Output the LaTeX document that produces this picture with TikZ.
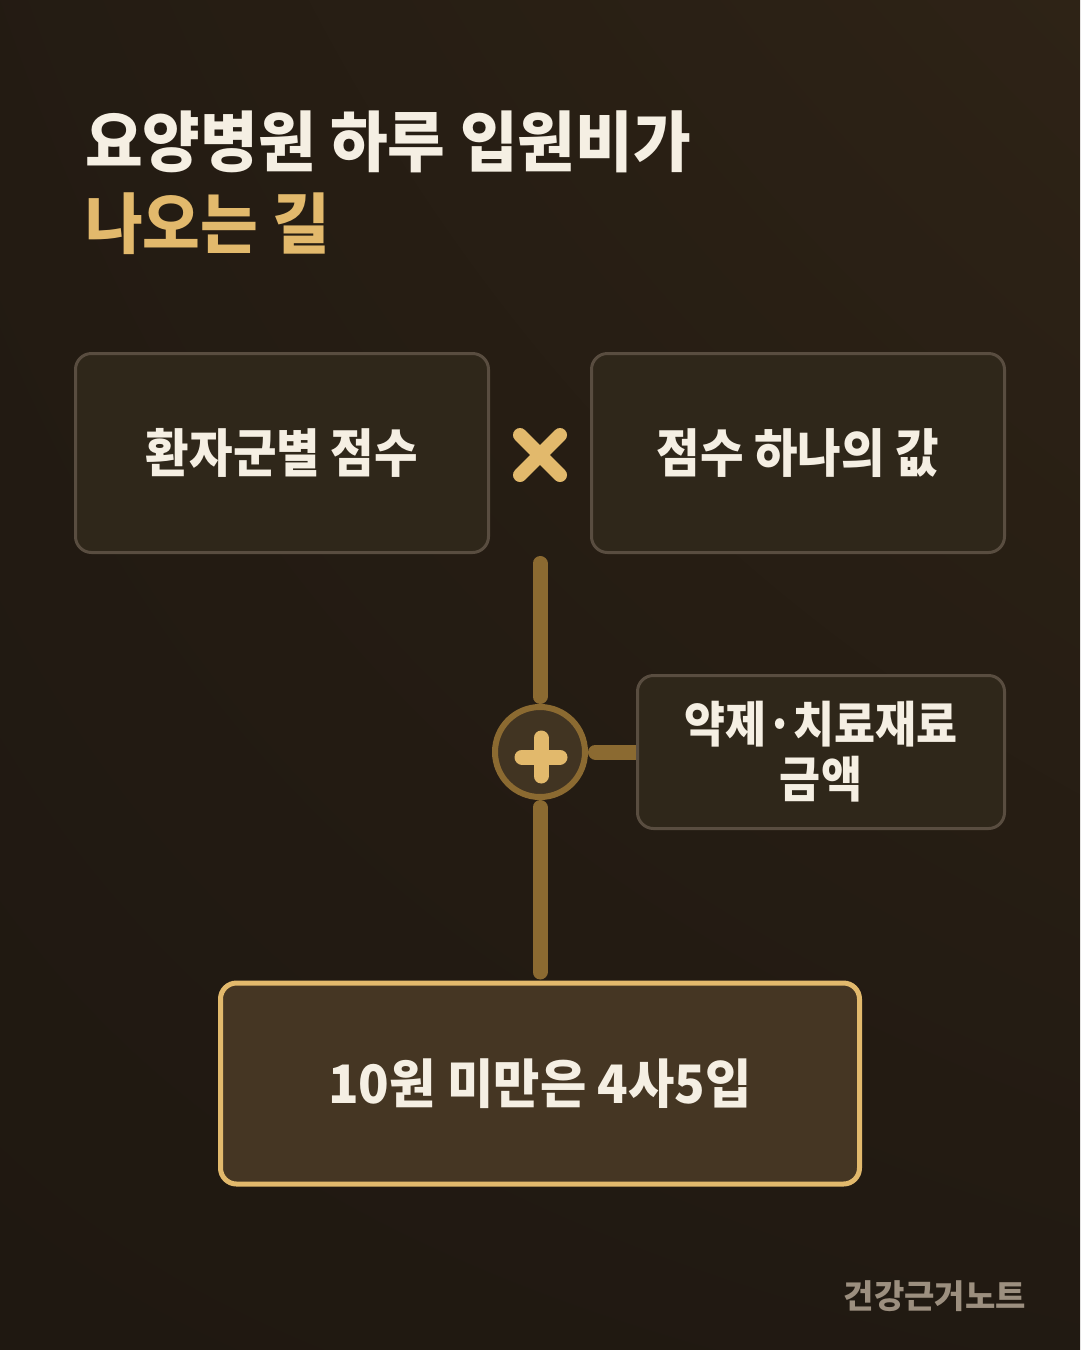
\documentclass[tikz,border=0pt]{standalone}
\usepackage{fontspec}
\usepackage{xcolor}
\usetikzlibrary{positioning,shadings}
\newfontfamily\krhead{Noto Sans CJK KR}[FakeStretch=0.95]
\newfontfamily\krbox{Noto Sans CJK KR}[FakeStretch=0.91]
\newfontfamily\kr{Noto Sans CJK KR}

\definecolor{bgdark}{HTML}{1F1811}
\definecolor{bglight}{HTML}{2E2316}
\definecolor{boxfill}{HTML}{2F271A}
\definecolor{boxline}{HTML}{594D40}
\definecolor{gold}{HTML}{E2B96C}
\definecolor{wire}{HTML}{8B6A31}
\definecolor{plusfill}{HTML}{413422}
\definecolor{resfill}{HTML}{453623}
\definecolor{ink}{HTML}{F5EFE3}
\definecolor{note}{HTML}{9C8F7F}

\pgfdeclarelayer{bg}
\pgfdeclarelayer{wires}
\pgfsetlayers{bg,wires,main}

\begin{document}
\begin{tikzpicture}[x=1pt,y=-1pt,line cap=round]
        \tikzstyle{card}=[draw=boxline,fill=boxfill,line width=3pt,rounded corners=16pt,text=ink,font=\krbox\bfseries\fontsize{52}{60}\selectfont]
        \tikzstyle{link}=[draw=wire,line width=15pt,line cap=round]
        \tikzstyle{title}=[anchor=base west,inner sep=0pt,font=\krhead\bfseries\fontsize{66}{72}\selectfont]

        % background
        \begin{pgfonlayer}{bg}
        \shade[upper left=bgdark!70!bglight,upper right=bglight,lower left=bgdark,lower right=bgdark!85!bglight] (0,0) rectangle (1080,1350);
        \end{pgfonlayer}
        \useasboundingbox (0,0) rectangle (1080,1350);

        \node[title,text=ink] (head) at (85,166) {요양병원 하루 입원비가};
        \node[title,text=gold] (sub) at (85,248) {나오는 길};

        \node[card,minimum width=413pt,minimum height=199pt] (score) at (282,453) {환자군별 점수};
        \node[card,minimum width=413pt,minimum height=199pt] (value) at (798,453) {점수 하나의 값};
        \node[card,minimum width=367pt,minimum height=153pt,align=center,font=\krbox\bfseries\fontsize{49}{55}\selectfont] (drug) at (821,752) {약제·치료재료\\금액};
        \node[card,draw=gold,fill=resfill,line width=5pt,minimum width=639pt,minimum height=201pt,font=\krhead\bfseries\fontsize{53}{60}\selectfont] (result) at (540,1083.5) {10원 미만은 4사5입};

        \node[circle,draw=wire,fill=plusfill,line width=6pt,minimum size=90pt,inner sep=0pt] (plus) at (540,752) {};
        \coordinate (times) at (540,455);
        \coordinate (join) at (540,563.5);

        % times mark and plus sign
        \draw[gold,line width=14pt] ([shift={(-20,-20)}]times) -- ([shift={(20,20)}]times)
                                    ([shift={(-20,20)}]times) -- ([shift={(20,-20)}]times);
        \draw[gold,line width=15pt] ([shift={(-18,5)}]plus.center) -- ([shift={(20,5)}]plus.center)
                                    ([shift={(1,-14)}]plus.center) -- ([shift={(1,24)}]plus.center);

        \begin{pgfonlayer}{wires}
        \draw[link,shorten >=7.5pt] (join) -- (plus.north);
        \draw[link,shorten <=7.5pt,shorten >=8.5pt] (plus.south) -- (result.north);
        \draw[link,shorten <=7.5pt] (plus.east) -- (drug.west);
        \end{pgfonlayer}

        \node[anchor=base east,inner sep=0pt,text=note,font=\kr\bfseries\fontsize{33}{36}\selectfont] (brand) at (1026,1308) {건강근거노트};
\end{tikzpicture}
\end{document}
